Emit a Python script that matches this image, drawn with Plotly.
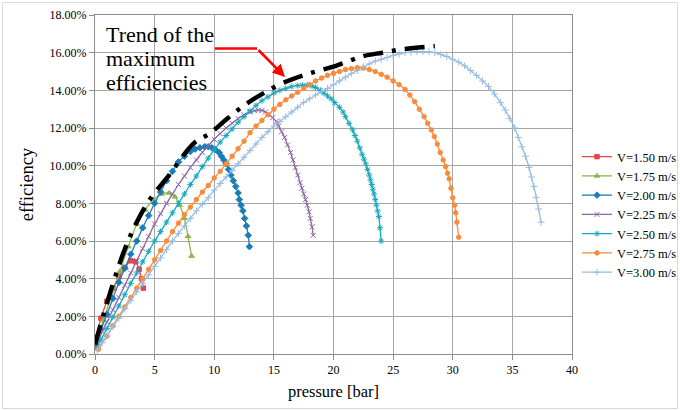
import plotly.graph_objects as go

# ---------------- data (pressure [bar], efficiency [%]) ----------------
names = ["V=1.50 m/s", "V=1.75 m/s", "V=2.00 m/s", "V=2.25 m/s",
         "V=2.50 m/s", "V=2.75 m/s", "V=3.00 m/s"]

x_150 = [0.1, 0.5, 1.0, 1.5, 2.0, 2.5, 3.0, 3.4, 3.7, 3.9, 4.05]
y_150 = [0.9, 1.9, 2.8, 3.5, 4.1, 4.6, 4.95, 4.9, 4.5, 4.0, 3.5]

x_175 = [0.1, 0.7, 1.4, 2.1, 2.8, 3.5, 4.2, 4.9, 5.6, 6.2, 6.7, 7.1, 7.5, 7.8, 8.1]
y_175 = [0.6, 1.8, 3.1, 4.4, 5.7, 6.9, 7.65, 8.2, 8.5, 8.55, 8.35, 7.9, 7.2, 6.25, 5.2]

x_200 = [0.1, 0.5, 1.0, 1.5, 2.0, 2.5, 3.0, 3.5, 4.0, 4.5, 5.0, 5.5, 6.0, 6.5, 7.0,
         7.5, 8.0, 8.4, 8.8, 9.2, 9.5, 9.8, 10.1, 10.4, 10.6, 10.8, 11.0, 11.2, 11.4,
         11.6, 11.8, 12.0, 12.1, 12.25, 12.4, 12.55, 12.7, 12.85, 12.95]
y_200 = [0.5, 1.3, 2.1, 2.95, 3.8, 4.55, 5.3, 6.0, 6.7, 7.35, 8.0, 8.6, 9.2, 9.7, 10.2,
         10.5, 10.75, 10.88, 10.95, 11.0, 11.0, 10.95, 10.85, 10.7, 10.5, 10.3, 10.1, 9.8, 9.5,
         9.2, 8.9, 8.55, 8.2, 7.9, 7.6, 7.2, 6.8, 6.3, 5.7]

x_225 = [0.15, 0.6, 1.0, 1.5, 2.0, 2.5, 3.0, 3.5, 4.0, 4.5, 5.0, 5.5, 6.0, 6.5, 7.0,
         7.5, 8.0, 8.5, 9.0, 9.5, 10.0, 10.5, 11.0, 11.5, 12.0, 12.5, 13.0, 13.4, 13.7,
         14.0, 14.3, 14.6, 14.9, 15.2, 15.4, 15.65, 15.9, 16.15, 16.4, 16.6, 16.8, 17.0,
         17.2, 17.35, 17.5, 17.65, 17.8, 17.95, 18.05, 18.2, 18.3]
y_225 = [0.4, 1.2, 1.7, 2.35, 3.0, 3.65, 4.3, 4.95, 5.6, 6.25, 6.9, 7.45, 8.0, 8.5, 9.0,
         9.45, 9.9, 10.3, 10.7, 11.05, 11.4, 11.7, 12.0, 12.25, 12.5, 12.7, 12.85, 12.92, 12.95,
         12.93, 12.85, 12.72, 12.55, 12.35, 12.1, 11.8, 11.5, 11.1, 10.7, 10.3, 9.9, 9.5,
         9.1, 8.8, 8.5, 8.2, 7.9, 7.55, 7.2, 6.75, 6.3]

x_250 = [0.15, 0.5, 1.0, 1.5, 2.0, 2.5, 3.0, 3.5, 4.0, 4.5, 5.0, 5.5, 6.0, 6.5, 7.0,
         7.5, 8.0, 8.5, 9.0, 9.5, 10.0, 10.5, 11.0, 11.5, 12.0, 12.5, 13.0, 13.5, 14.0,
         14.5, 15.0, 15.5, 16.0, 16.5, 17.0, 17.4, 17.8, 18.2, 18.5, 18.9, 19.2, 19.5,
         19.8, 20.1, 20.5, 20.8, 21.0, 21.3, 21.6, 21.8, 22.0, 22.2, 22.4, 22.55, 22.7,
         22.85, 23.0, 23.1, 23.2, 23.3, 23.4, 23.5, 23.6, 23.7, 23.8, 23.9, 24.0]
y_250 = [0.3, 0.75, 1.35, 1.95, 2.55, 3.15, 3.75, 4.3, 4.9, 5.45, 6.0, 6.5, 7.0, 7.5, 8.0,
         8.5, 9.0, 9.45, 9.95, 10.4, 10.85, 11.25, 11.6, 11.95, 12.3, 12.6, 12.9, 13.2, 13.45,
         13.65, 13.85, 14.0, 14.1, 14.2, 14.25, 14.27, 14.28, 14.22, 14.15, 14.0, 13.85, 13.7,
         13.55, 13.35, 13.1, 12.85, 12.6, 12.25, 11.9, 11.6, 11.3, 10.95, 10.6, 10.35, 10.1,
         9.8, 9.5, 9.25, 9.0, 8.75, 8.5, 8.2, 7.9, 7.6, 7.3, 6.7, 6.0]

x_275 = [0.3, 1.0, 1.5, 2.0, 2.5, 3.0, 3.5, 4.0, 4.5, 5.0, 5.5, 6.0, 6.5, 7.0, 7.5,
         8.0, 8.5, 9.0, 9.5, 10.0, 10.5, 11.0, 11.5, 12.0, 12.5, 13.0, 13.5, 14.0, 14.5,
         15.0, 15.5, 16.0, 16.5, 17.0, 17.5, 18.0, 18.5, 19.0, 19.5, 20.0, 20.5, 21.0,
         21.5, 22.0, 22.5, 23.0, 23.5, 24.0, 24.5, 25.0, 25.5, 26.0, 26.4, 26.8, 27.2,
         27.6, 27.9, 28.2, 28.45, 28.7, 28.95, 29.2, 29.4, 29.56, 29.7, 29.85, 30.0,
         30.15, 30.25, 30.35, 30.5]
y_275 = [0.25, 0.95, 1.5, 2.0, 2.5, 3.0, 3.5, 4.0, 4.5, 5.0, 5.5, 6.0, 6.5, 6.95, 7.4,
         7.8, 8.2, 8.6, 8.95, 9.35, 9.7, 10.1, 10.5, 10.9, 11.3, 11.75, 12.1, 12.4, 12.7,
         13.0, 13.25, 13.5, 13.7, 13.9, 14.1, 14.3, 14.5, 14.65, 14.8, 14.9, 15.0, 15.1,
         15.15, 15.2, 15.18, 15.1, 15.0, 14.85, 14.7, 14.5, 14.3, 14.05, 13.75, 13.4, 13.0,
         12.6, 12.25, 11.9, 11.55, 11.15, 10.7, 10.3, 9.95, 9.6, 9.3, 8.8, 8.3,
         7.9, 7.5, 7.0, 6.2]

x_300 = [0.2, 0.6, 1.0, 1.5, 2.0, 2.5, 3.0, 3.5, 4.0, 4.5, 5.0, 5.5, 6.0, 6.5, 7.0,
         7.5, 8.0, 8.5, 9.0, 9.5, 10.0, 10.5, 11.0, 11.5, 12.0, 12.5, 13.0, 13.5, 14.0,
         14.5, 15.0, 15.5, 16.0, 16.5, 17.0, 17.5, 18.0, 18.5, 19.0, 19.5, 20.0, 20.5,
         21.0, 21.5, 22.0, 22.5, 23.0, 23.5, 24.0, 24.5, 25.0, 25.5, 26.0, 26.5, 27.0,
         27.5, 28.0, 28.5, 29.0, 29.5, 30.0, 30.5, 31.0, 31.5, 32.0, 32.5, 33.0, 33.5,
         34.0, 34.4, 34.8, 35.2, 35.5, 35.8, 36.1, 36.4, 36.6, 36.8, 37.0, 37.2, 37.4]
y_300 = [0.2, 0.6, 0.95, 1.45, 1.9, 2.4, 2.85, 3.3, 3.75, 4.2, 4.65, 5.1, 5.55, 6.0, 6.4,
         6.8, 7.2, 7.6, 7.95, 8.3, 8.7, 9.05, 9.4, 9.75, 10.1, 10.45, 10.8, 11.15, 11.5,
         11.8, 12.1, 12.35, 12.6, 12.85, 13.1, 13.35, 13.55, 13.75, 13.95, 14.1, 14.3, 14.5,
         14.7, 14.9, 15.05, 15.25, 15.4, 15.55, 15.65, 15.75, 15.85, 15.93, 16.0, 16.03, 16.05,
         16.06, 16.05, 16.0, 15.9, 15.8, 15.65, 15.5, 15.3, 15.05, 14.8, 14.5, 14.2, 13.8,
         13.35, 12.95, 12.5, 12.0, 11.5, 11.0, 10.5, 9.9, 9.4, 8.9, 8.3, 7.7, 7.0]

x_series = [x_150, x_175, x_200, x_225, x_250, x_275, x_300]
y_series = [y_150, y_175, y_200, y_225, y_250, y_275, y_300]

trend_x = [0.0, 1.0, 2.4, 3.5, 4.7, 6.1, 8.3, 9.6, 11.1, 12.5, 14.0, 15.8, 18.0,
           20.2, 22.4, 24.1, 26.0, 28.5]
trend_y = [0.5, 2.7, 5.4, 7.0, 8.3, 9.4, 11.2, 11.7, 12.5, 13.2, 13.8, 14.4, 14.9,
           15.3, 15.8, 16.0, 16.2, 16.35]

x_tick_vals = [0, 5, 10, 15, 20, 25, 30, 35, 40]
y_tick_vals = [0, 2, 4, 6, 8, 10, 12, 14, 16, 18]
y_tick_text = [f"{v:.2f}%" for v in y_tick_vals]

annot_lines = ["Trend of the", "maximum", "efficiencies"]

# ---------------- styles ----------------
colors = ["#E2474B", "#8DB64F", "#1B7DB8", "#8C67A8", "#1BA8BD", "#F98C3C", "#98BDE3"]
symbols = ["square", "triangle-up", "diamond", "x-thin-open", "asterisk-open",
           "circle", "cross-thin-open"]
msizes = [4.5, 5, 5, 5, 5, 4.5, 5]

FONT = "Liberation Serif, Times New Roman, serif"

fig = go.Figure()
for name, xs, ys, c, s, ms in zip(names, x_series, y_series, colors, symbols, msizes):
    fig.add_trace(go.Scatter(
        x=xs, y=ys, name=name, mode="lines+markers",
        line=dict(color=c, width=1.3, shape="spline", smoothing=0.6),
        marker=dict(symbol=s, size=ms, color=c, line=dict(color=c, width=1)),
    ))

fig.add_trace(go.Scatter(
    x=trend_x, y=trend_y, mode="lines", showlegend=False,
    line=dict(color="black", width=4.5, dash="20px,9px,4px,9px", shape="spline"),
))

# plot-area pixel geometry
L, R, T, B = 95, 108, 15, 57
W, H = 680, 411
pw, ph = W - L - R, H - T - B

def px(xp):
    return (xp - L) / pw

def py(yp):
    return (H - B - yp) / ph

annots = []
for txt, yc in zip(annot_lines, [34.5, 58.5, 82.5]):
    annots.append(dict(xref="paper", yref="paper", x=px(104), y=py(yc),
                       xanchor="left", yanchor="middle", showarrow=False, text=txt,
                       font=dict(family=FONT, size=22, color="black")))
annots.append(dict(xref="paper", yref="paper", x=px(285), y=py(77), ax=-28, ay=-28.5,
                   axref="pixel", ayref="pixel", text="", showarrow=True,
                   arrowhead=2, arrowsize=1, arrowwidth=2.5, arrowcolor="#FF0000"))

fig.update_layout(
    width=W, height=H,
    margin=dict(l=L, r=R, t=T, b=B, autoexpand=False),
    paper_bgcolor="white", plot_bgcolor="white",
    font=dict(family=FONT, size=12, color="black"),
    showlegend=True,
    legend=dict(x=px(577), y=py(142), xanchor="left", yanchor="top",
                font=dict(family=FONT, size=12.5), bgcolor="rgba(0,0,0,0)",
                tracegroupgap=0),
    xaxis=dict(range=[0, 40], tickvals=x_tick_vals, showgrid=True, automargin=False,
               gridcolor="#A6A6A6", gridwidth=1, zeroline=False,
               showline=True, linecolor="#8C8C8C", linewidth=1, mirror=True,
               ticks="outside", ticklen=5, tickcolor="#8C8C8C",
               tickfont=dict(family=FONT, size=12),
               title=dict(text="pressure [bar]", font=dict(family=FONT, size=16.5), standoff=9)),
    yaxis=dict(range=[0, 18], tickvals=y_tick_vals, ticktext=y_tick_text, automargin=False,
               showgrid=True, gridcolor="#A6A6A6", gridwidth=1, zeroline=False,
               showline=True, linecolor="#8C8C8C", linewidth=1, mirror=True,
               ticks="outside", ticklen=5, tickcolor="#8C8C8C",
               tickfont=dict(family=FONT, size=12),
               title=dict(text="efficiency", font=dict(family=FONT, size=18.5), standoff=11)),
    shapes=[
        dict(type="rect", xref="paper", yref="paper",
             x0=px(2.5), x1=px(677.5), y0=py(408.5), y1=py(2.5),
             line=dict(color="#D9D9D9", width=1), fillcolor="rgba(0,0,0,0)", layer="below"),
        dict(type="line", xref="paper", yref="paper",
             x0=px(215), x1=px(257), y0=py(48.5), y1=py(48.5),
             line=dict(color="#FF0000", width=2.5)),
    ],
    annotations=annots,
)

fig.write_html("out.html", config={"displayModeBar": False},
               post_script="document.body.style.margin='0px';document.body.style.overflow='hidden';")
